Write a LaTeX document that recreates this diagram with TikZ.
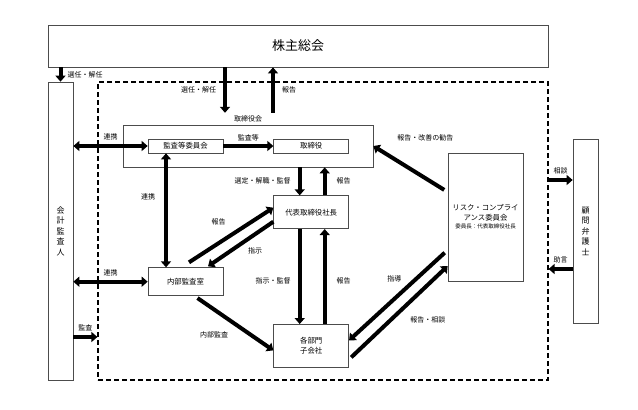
\documentclass[tikz,border=0pt]{standalone}
\usepackage{fontspec}
\setmainfont{Noto Sans CJK JP}
\usetikzlibrary{arrows.meta,positioning,calc}

\begin{document}
\begin{tikzpicture}[
    x=1pt, y=-1pt,
    box/.style={draw=black!70, line width=0.7pt, fill=white, minimum width=75pt, inner sep=0pt, align=center, font=\fontsize{7.4}{10}\selectfont},
    vbox/.style={draw=black!70, line width=0.7pt, fill=white, minimum width=25pt, inner sep=0pt, align=center, font=\fontsize{8}{10.5}\selectfont},
    lbl/.style={font=\fontsize{7}{8}\selectfont, inner sep=1pt},
    arrow/.style={line width=4pt, -{Triangle[length=6pt,width=10pt]}},
    dblarrow/.style={line width=4pt, {Triangle[length=6pt,width=10pt]}-{Triangle[length=6pt,width=10pt]}}
]
\useasboundingbox (0,0) rectangle (638,410);

% Top
\node[draw=black!70, line width=0.7pt, minimum width=500pt, minimum height=42pt, inner sep=0pt, font=\fontsize{13}{15}\selectfont] (kabunushi) at (298,46) {株主総会};

% Company frame
\node[draw, line width=1.2pt, dash pattern=on 5pt off 3pt, minimum width=450pt, minimum height=298pt] (group) at (323,231) {};

% Outside
\node[vbox, minimum height=298pt] (kaikei) at (60.5,231) {会\\計\\監\\査\\人};
\node[vbox, minimum height=184pt] (komon) at (585.5,231) {顧\\問\\弁\\護\\士};

% Board
\node[box, minimum width=250pt, minimum height=42pt] (torikai) at (248,146) {};
\node[lbl, above=1pt of torikai] (torikaiLbl) {取締役会};
\node[box, minimum height=14pt] (iinkai) at (185.5,146) {監査等委員会};
\node[box, minimum height=14pt, right=50pt of iinkai] (torishimari) {取締役};

% Execution
\node[box, minimum height=33pt, below=42pt of torishimari] (shacho) {代表取締役社長};
\node[box, minimum height=43pt, below=95pt of shacho] (kakubu) {各部門\\子会社};
\node[box, minimum height=28pt, below=114pt of iinkai] (naibu) {内部監査室};
\node[box, minimum height=128pt] (risk) at (485.5,217) {リスク・コンプライ\\アンス委員会\\[-2pt]{\fontsize{5.5}{7}\selectfont 委員長：代表取締役社長}};

% Arrows
\draw[arrow] (kabunushi.south -| kaikei) -- node[lbl, right=4pt] {選任・解任} (kaikei.north);
\draw[arrow] ([xshift=-23pt]torikaiLbl.north |- kabunushi.south) -- node[lbl, left=6pt] {選任・解任} ([xshift=-23pt,yshift=2pt]torikaiLbl.north);
\draw[arrow] ([xshift=25pt,yshift=2pt]torikaiLbl.north) -- node[lbl, right=6pt] {報告} ([xshift=25pt]torikaiLbl.north |- kabunushi.south);
\draw[arrow] (iinkai) -- node[lbl, above=2pt] {監査等} (torishimari);
\draw[dblarrow] (kaikei.east |- iinkai.west) -- node[lbl, above=3pt] {連携} (iinkai.west);
\draw[dblarrow] ([xshift=-19.5pt]iinkai.south) -- node[lbl, pos=0.38, left=8pt] {連携} ([xshift=-19.5pt]naibu.north);
\draw[arrow] ([xshift=-11.5pt]shacho.north |- torikai.south) -- node[lbl, left=6pt] {選定・解職・監督} ([xshift=-11.5pt]shacho.north);
\draw[arrow] ([xshift=13.5pt]shacho.north) -- node[lbl, right=9pt] {報告} ([xshift=13.5pt]shacho.north |- torikai.south);
\draw[arrow] ([xshift=-11.5pt]shacho.south) -- node[lbl, pos=0.55, left=6pt] {指示・監督} ([xshift=-11.5pt]kakubu.north);
\draw[arrow] ([xshift=13.5pt]kakubu.north) -- node[lbl, pos=0.45, right=9pt] {報告} ([xshift=13.5pt]shacho.south);
\draw[arrow] ([xshift=3.5pt,yshift=5pt]naibu.north) -- node[lbl, pos=0.35, above=15pt] {報告} ([yshift=4.5pt]shacho.west);
\draw[arrow] ([yshift=-9.5pt]shacho.west) -- node[lbl, pos=0.28, below=10pt] {指示} ([xshift=22.5pt,yshift=1pt]naibu.north);
\draw[arrow] ([xshift=12pt,yshift=-2pt]naibu.south) -- node[lbl, pos=0.22, below=19pt] {内部監査} ([yshift=-4.5pt]kakubu.west);
\draw[dblarrow] (kaikei.east |- naibu.west) -- node[lbl, above=3pt] {連携} (naibu.west);
\draw[arrow] ([yshift=-106pt]kaikei.east) -- node[lbl, above=3pt] {監査} ([yshift=-106pt]kaikei.east -| group.west);
\draw[arrow, shorten <=4pt] ([yshift=25pt]risk.west) -- node[lbl, pos=0.3, above=34pt] {報告・改善の勧告} (torikai.east);
\draw[arrow, shorten <=4pt] ([yshift=-33pt]risk.west) -- node[lbl, pos=0.54, above=14pt] {指導} ([yshift=5.5pt]kakubu.east);
\draw[arrow, shorten <=3pt] ([yshift=-13.5pt]kakubu.east) -- node[lbl, pos=0.8, below=29pt] {報告・相談} ([yshift=-49pt]risk.west);
\draw[arrow] ([yshift=51pt]komon.west -| group.east) -- node[lbl, above=3pt] {相談} ([yshift=51pt]komon.west);
\draw[arrow] ([yshift=-38pt]komon.west) -- node[lbl, above=3pt] {助言} ([yshift=-38pt]komon.west -| group.east);

\end{tikzpicture}
\end{document}
